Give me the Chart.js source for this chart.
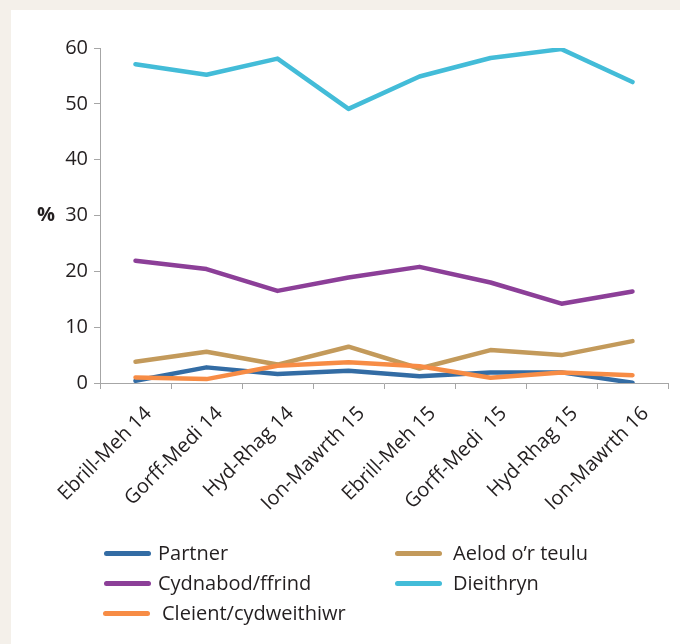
<!DOCTYPE html>
<html>
<head>
<meta charset="utf-8">
<script src="https://cdn.jsdelivr.net/npm/chart.js@4/dist/chart.umd.min.js"></script>
<style>
body { margin: 0; background: #f4f0ea; font-family: "Open Sans", sans-serif; }
#panel { position: absolute; left: 11px; top: 10px; right: 0; bottom: 0; background: #fff; }
#wrap { position: absolute; left: 11px; top: 10px; width: 669px; height: 500px; }
#legend { position: absolute; left: 0; top: 0; width: 680px; height: 644px; pointer-events: none; }
.item { position: absolute; font-size: 20px; color: #231f20; line-height: 24px; white-space: nowrap; }
.item span.sw { position: absolute; top: 10px; width: 47px; height: 5px; border-radius: 2.5px; }
</style>
</head>
<body>
<div id="panel"></div>
<div id="wrap"><canvas id="chart"></canvas></div>
<div id="legend"></div>
<script>
const categories = ['Ebrill-Meh 14', 'Gorff-Medi 14', 'Hyd-Rhag 14', 'Ion-Mawrth 15',
  'Ebrill-Meh 15', 'Gorff-Medi  15', 'Hyd-Rhag 15', 'Ion-Mawrth 16']
const partner = [0.4, 2.8, 1.6, 2.2, 1.2, 1.9, 1.9, 0.05]
const aelod = [3.8, 5.6, 3.3, 6.5, 2.6, 5.9, 5.0, 7.5]
const cydnabod = [21.9, 20.4, 16.5, 18.9, 20.8, 18.0, 14.2, 16.4]
const dieithryn = [57.1, 55.2, 58.1, 49.1, 54.9, 58.2, 59.8, 53.9]
const cleient = [1.0, 0.7, 3.1, 3.7, 3.0, 0.95, 1.9, 1.4]
const yTicks = [0, 10, 20, 30, 40, 50, 60]

const series = [
  { label: 'Partner', data: partner, color: '#336ca4' },
  { label: 'Aelod o\u2019r teulu', data: aelod, color: '#c39a5b' },
  { label: 'Cydnabod/ffrind', data: cydnabod, color: '#8c3f98' },
  { label: 'Dieithryn', data: dieithryn, color: '#43bcd8' },
  { label: 'Cleient/cydweithiwr', data: cleient, color: '#f78c45' }
]

// legend: [text left, row top, swatch left] in page px
const legendPos = [[158, 541, 104], [453, 541, 395], [158, 571, 104], [453, 571, 395], [162, 601, 103]]
var lg = document.getElementById('legend')
series.forEach(function (s, i) {
  var d = document.createElement('div')
  d.className = 'item'
  d.style.left = legendPos[i][0] + 'px'
  d.style.top = legendPos[i][1] + 'px'
  d.innerHTML = '<span class="sw" style="left:' + (legendPos[i][2] - legendPos[i][0]) +
    'px;background:' + s.color + '"></span>' + s.label
  lg.appendChild(d)
})

const axisGrey = '#a6a6a6'
const pctLabel = {
  id: 'pctLabel',
  afterDraw: function (chart) {
    var ctx = chart.ctx
    ctx.save()
    ctx.font = 'bold 20px "Open Sans"'
    ctx.fillStyle = '#231f20'
    ctx.textAlign = 'center'
    ctx.textBaseline = 'middle'
    ctx.fillText('%', 35, chart.scales.y.getPixelForValue(30))
    ctx.restore()
  }
}

new Chart(document.getElementById('chart'), {
  type: 'line',
  data: {
    labels: categories,
    // last series drawn on top -> reverse
    datasets: series.slice().reverse().map(function (s) {
      return {
        label: s.label,
        data: s.data,
        borderColor: s.color,
        backgroundColor: s.color,
        borderWidth: 4.5,
        borderCapStyle: 'round',
        borderJoinStyle: 'round',
        pointRadius: 0,
        tension: 0,
        fill: false
      }
    })
  },
  options: {
    responsive: true,
    maintainAspectRatio: false,
    animation: false,
    layout: { padding: { top: 38, right: 12, left: 0, bottom: 0 } },
    plugins: { legend: { display: false }, tooltip: { enabled: false } },
    scales: {
      x: {
        offset: true,
        afterFit: function (s) { s.height = 127 },
        border: { color: axisGrey, width: 1 },
        grid: { offset: true, drawOnChartArea: false, drawTicks: true, tickLength: 6, color: axisGrey },
        ticks: {
          autoSkip: false, minRotation: 45, maxRotation: 45,
          padding: 13, labelOffset: 13,
          color: '#231f20', font: { family: 'Open Sans', size: 20 }
        }
      },
      y: {
        min: 0, max: 60,
        afterFit: function (s) { s.width = 89 },
        afterBuildTicks: function (s) { s.ticks = yTicks.map(function (v) { return { value: v } }) },
        border: { color: axisGrey, width: 1 },
        grid: { drawOnChartArea: false, drawTicks: true, tickLength: 6, color: axisGrey },
        ticks: { padding: 6, color: '#231f20', font: { family: 'Open Sans', size: 20 } }
      }
    }
  },
  plugins: [pctLabel]
})
</script>
</body>
</html>
